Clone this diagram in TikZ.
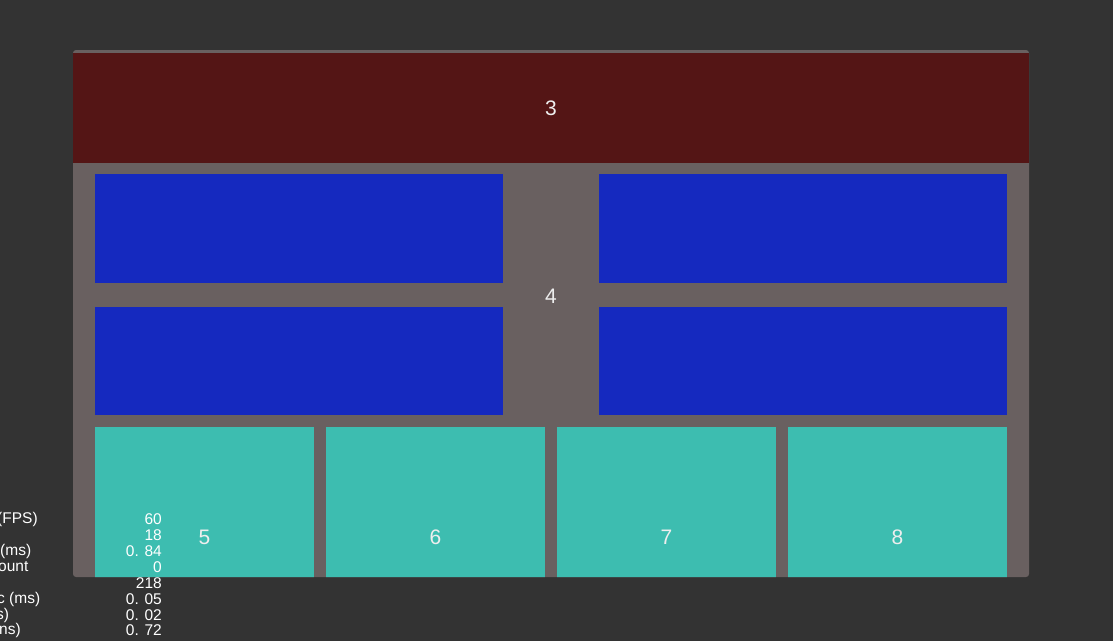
\documentclass[tikz,border=0pt]{standalone}
\usepackage{fontspec}
\setmainfont{Liberation Sans}

\definecolor{backdrop}{HTML}{333333}
\definecolor{panelgray}{HTML}{696060}
\definecolor{headred}{HTML}{541515}
\definecolor{cellblue}{HTML}{1529BF}
\definecolor{cellteal}{HTML}{3DBDB0}
\definecolor{labelwhite}{HTML}{EEEEEE}

\tikzset{
    box/.style={draw=none, inner sep=0pt, outer sep=0pt,
        text=labelwhite, font=\fontsize{21}{25}\selectfont},
    bluebox/.style={box, fill=cellblue, minimum width=408, minimum height=109},
    tealbox/.style={box, fill=cellteal, minimum width=219, minimum height=220},
    stat/.style={inner sep=0pt, text=white, font=\fontsize{15.5}{16}\selectfont},
}

\begin{document}
\begin{tikzpicture}[x=1pt, y=-1pt]
    \fill [backdrop]
        (0,0) rectangle (1113,641)
        ;
    \useasboundingbox
        (0,0) rectangle (1113,641)
        ;
    \clip
        (0,0) rectangle (1113,641)
        ;

    % panel
    \fill [panelgray, rounded corners=3pt]
        (73,50) rectangle (1029,577)
        ;

    \node [box, fill=headred, minimum width=956, minimum height=110]
        (header) at (551,108) {3}
        ;

    \node [box]
        (middle) at (551,296) {4}
        ;

    \node [bluebox] (blueTL) at (299,228.5) {};
    \node [bluebox] (blueTR) at (803,228.5) {};
    \node [bluebox, minimum height=108] (blueBL) at (299,361) {};
    \node [bluebox, minimum height=108] (blueBR) at (803,361) {};

    \begin{scope}
        \clip [rounded corners=3pt]
            (73,50) rectangle (1029,577)
            ;
        \foreach \n/\x in {5/204.5, 6/435.5, 7/666.5, 8/897.5} {
            \node [tealbox]
                (teal\n) at (\x,537) {\n}
                ;
        }
    \end{scope}

    % stats overlay
    \foreach \v/\y in {60/519, 18/535, 0. 84/551, 0/567, 218/583,
                       0. 05/599, 0. 02/615, 0. 72/630} {
        \node [stat, anchor=east]
            at (162,\y) {\v}
            ;
    }

    \node [stat, anchor=west] (fps)   at (-3,519) {(FPS)};
    \node [stat, anchor=west] (ms)    at (0,551)  {(ms)};
    \node [stat, anchor=west] (count) at (-2,567) {ount};
    \node [stat, anchor=west] (cms)   at (-3,599) {c (ms)};
    \node [stat, anchor=west] (sms)   at (-4,615) {s)};
    \node [stat, anchor=west] (nms)   at (-1,630) {ns)};
\end{tikzpicture}
\end{document}
